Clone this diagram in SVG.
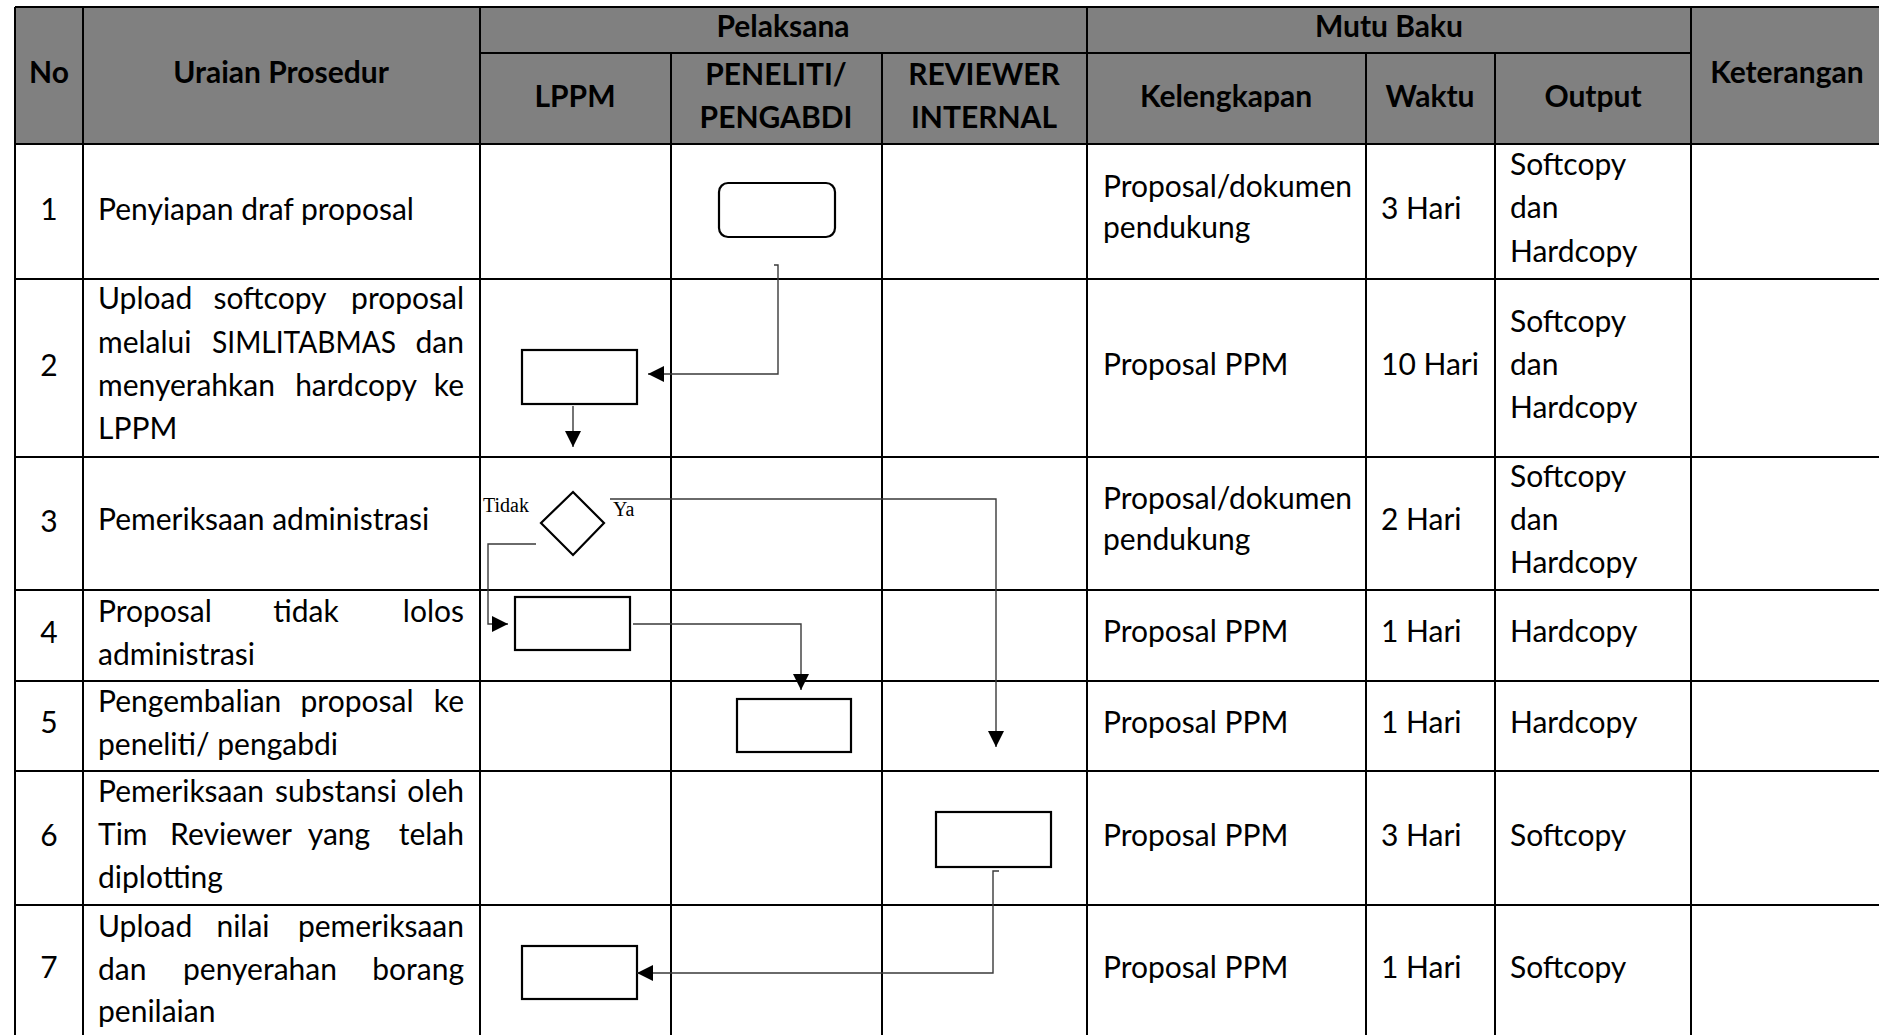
<svg xmlns="http://www.w3.org/2000/svg" width="1879" height="1035" viewBox="0 0 1879 1035">
<defs>
<style>
.grid{stroke:#000;stroke-width:2;fill:none}
.hdr{fill:#808080}
.h{font-family:Lato,"Liberation Sans",sans-serif;font-weight:bold;font-size:30px;fill:#000;text-anchor:middle}
.t{font-family:Lato,"Liberation Sans",sans-serif;font-size:30px;fill:#000}
.n{font-family:Lato,"Liberation Sans",sans-serif;font-size:30px;fill:#000;text-anchor:middle}
.e{text-anchor:end}
.m{text-anchor:middle}
.lbl{font-family:"Liberation Serif","Times New Roman",serif;font-size:20px;fill:#000}
.shape{fill:#fff;stroke:#000;stroke-width:2.2}
.conn{fill:none;stroke:#3a3a3a;stroke-width:1.4}
</style>
<marker id="arr" markerUnits="userSpaceOnUse" markerWidth="16" markerHeight="16" viewBox="0 0 15 15" refX="15" refY="7.5" orient="auto">
<path d="M0,0 L15,7.5 L0,15 Z" fill="#000"/>
</marker>
</defs>
<rect width="1879" height="1035" fill="#fff"/>

<g id="table">
<rect class="hdr" x="15" y="7" width="1869" height="137"/>
<path class="grid" d="M15,7 H1884 M480,53 H1691 M15,144 H1884 M15,279 H1884 M15,457 H1884 M15,590 H1884 M15,681 H1884 M15,771 H1884 M15,905 H1884"/>
<path class="grid" d="M15,7 V1040 M83,7 V1040 M480,7 V1040 M1087,7 V1040 M1691,7 V1040 M671,53 V1040 M882,53 V1040 M1366,53 V1040 M1495,53 V1040"/>
</g>

<g id="header">
<text class="h" x="49" y="83">No</text>
<text class="h" x="281" y="83">Uraian Prosedur</text>
<text class="h" x="783" y="37">Pelaksana</text>
<text class="h" x="575" y="107">LPPM</text>
<text class="h" x="776" y="85">PENELITI/</text>
<text class="h" x="776" y="128">PENGABDI</text>
<text class="h" x="984" y="85">REVIEWER</text>
<text class="h" x="984" y="128">INTERNAL</text>
<text class="h" x="1389" y="37">Mutu Baku</text>
<text class="h" x="1226" y="107">Kelengkapan</text>
<text class="h" x="1430" y="107">Waktu</text>
<text class="h" x="1593" y="107">Output</text>
<text class="h" x="1787" y="83">Keterangan</text>
</g>

<g id="row1">
<text class="n" x="49" y="220">1</text>
<text class="t" x="98" y="220">Penyiapan draf proposal</text>
<text class="t" x="1103" y="197">Proposal/dokumen</text>
<text class="t" x="1103" y="238">pendukung</text>
<text class="t" x="1381" y="219">3 Hari</text>
<text class="t" x="1510" y="175">Softcopy</text>
<text class="t" x="1510" y="218">dan</text>
<text class="t" x="1510" y="262">Hardcopy</text>
</g>

<g id="row2">
<text class="n" x="49" y="376">2</text>
<text class="t" y="309"><tspan x="98">Upload</tspan><tspan x="270" class="m">softcopy</tspan><tspan x="464" class="e">proposal</tspan></text>
<text class="t" y="353"><tspan x="98">melalui</tspan><tspan x="212" textLength="184" lengthAdjust="spacingAndGlyphs">SIMLITABMAS</tspan><tspan x="464" class="e">dan</tspan></text>
<text class="t" y="396"><tspan x="98">menyerahkan</tspan><tspan x="356" class="m">hardcopy</tspan><tspan x="464" class="e">ke</tspan></text>
<text class="t" x="98" y="439">LPPM</text>
<text class="t" x="1103" y="375">Proposal PPM</text>
<text class="t" x="1381" y="375">10 Hari</text>
<text class="t" x="1510" y="332">Softcopy</text>
<text class="t" x="1510" y="375">dan</text>
<text class="t" x="1510" y="418">Hardcopy</text>
</g>

<g id="row3">
<text class="n" x="49" y="532">3</text>
<text class="t" x="98" y="530">Pemeriksaan administrasi</text>
<text class="t" x="1103" y="509">Proposal/dokumen</text>
<text class="t" x="1103" y="550">pendukung</text>
<text class="t" x="1381" y="530">2 Hari</text>
<text class="t" x="1510" y="487">Softcopy</text>
<text class="t" x="1510" y="530">dan</text>
<text class="t" x="1510" y="573">Hardcopy</text>
</g>

<g id="row4">
<text class="n" x="49" y="643">4</text>
<text class="t" y="622"><tspan x="98">Proposal</tspan><tspan x="306" class="m">tidak</tspan><tspan x="464" class="e">lolos</tspan></text>
<text class="t" x="98" y="665">administrasi</text>
<text class="t" x="1103" y="642">Proposal PPM</text>
<text class="t" x="1381" y="642">1 Hari</text>
<text class="t" x="1510" y="642">Hardcopy</text>
</g>

<g id="row5">
<text class="n" x="49" y="733">5</text>
<text class="t" y="712"><tspan x="98">Pengembalian</tspan><tspan x="357" class="m">proposal</tspan><tspan x="464" class="e">ke</tspan></text>
<text class="t" x="98" y="755">peneliti/ pengabdi</text>
<text class="t" x="1103" y="733">Proposal PPM</text>
<text class="t" x="1381" y="733">1 Hari</text>
<text class="t" x="1510" y="733">Hardcopy</text>
</g>

<g id="row6">
<text class="n" x="49" y="846">6</text>
<text class="t" y="802"><tspan x="98" textLength="166" lengthAdjust="spacingAndGlyphs">Pemeriksaan</tspan><tspan x="336" class="m">substansi</tspan><tspan x="464" class="e">oleh</tspan></text>
<text class="t" y="845"><tspan x="98">Tim</tspan><tspan x="231" class="m">Reviewer</tspan><tspan x="339" class="m">yang</tspan><tspan x="464" class="e">telah</tspan></text>
<text class="t" x="98" y="888">diplotting</text>
<text class="t" x="1103" y="846">Proposal PPM</text>
<text class="t" x="1381" y="846">3 Hari</text>
<text class="t" x="1510" y="846">Softcopy</text>
</g>

<g id="row7">
<text class="n" x="49" y="978">7</text>
<text class="t" y="937"><tspan x="98">Upload</tspan><tspan x="243" class="m">nilai</tspan><tspan x="464" class="e">pemeriksaan</tspan></text>
<text class="t" y="980"><tspan x="98">dan</tspan><tspan x="260" class="m">penyerahan</tspan><tspan x="464" class="e">borang</tspan></text>
<text class="t" x="98" y="1022">penilaian</text>
<text class="t" x="1103" y="978">Proposal PPM</text>
<text class="t" x="1381" y="978">1 Hari</text>
<text class="t" x="1510" y="978">Softcopy</text>
</g>

<g id="node1"><rect class="shape" x="719" y="183" width="116" height="54" rx="9"/></g>
<g id="node2"><rect class="shape" x="522" y="350" width="115" height="54"/></g>
<g id="node3">
<polygon class="shape" points="573,492 604,523 573,555 541,523"/>
<text class="lbl" x="483" y="512">Tidak</text>
<text class="lbl" x="613" y="516">Ya</text>
</g>
<g id="node4"><rect class="shape" x="515" y="597" width="115" height="53"/></g>
<g id="node5"><rect class="shape" x="737" y="699" width="114" height="53"/></g>
<g id="node6"><rect class="shape" x="936" y="812" width="115" height="55"/></g>
<g id="node7"><rect class="shape" x="522" y="946" width="115" height="53"/></g>

<g id="connectors">
<path class="conn" d="M774,265 H778 V374 H648" marker-end="url(#arr)"/>
<path class="conn" d="M573,406 V447" marker-end="url(#arr)"/>
<path class="conn" d="M610,499 H996 V747" marker-end="url(#arr)"/>
<path class="conn" d="M536,544 H488 V624 H508" marker-end="url(#arr)"/>
<path class="conn" d="M633,624 H801 V690" marker-end="url(#arr)"/>
<path class="conn" d="M999,871 H993 V973 H637" marker-end="url(#arr)"/>
</g>
</svg>
